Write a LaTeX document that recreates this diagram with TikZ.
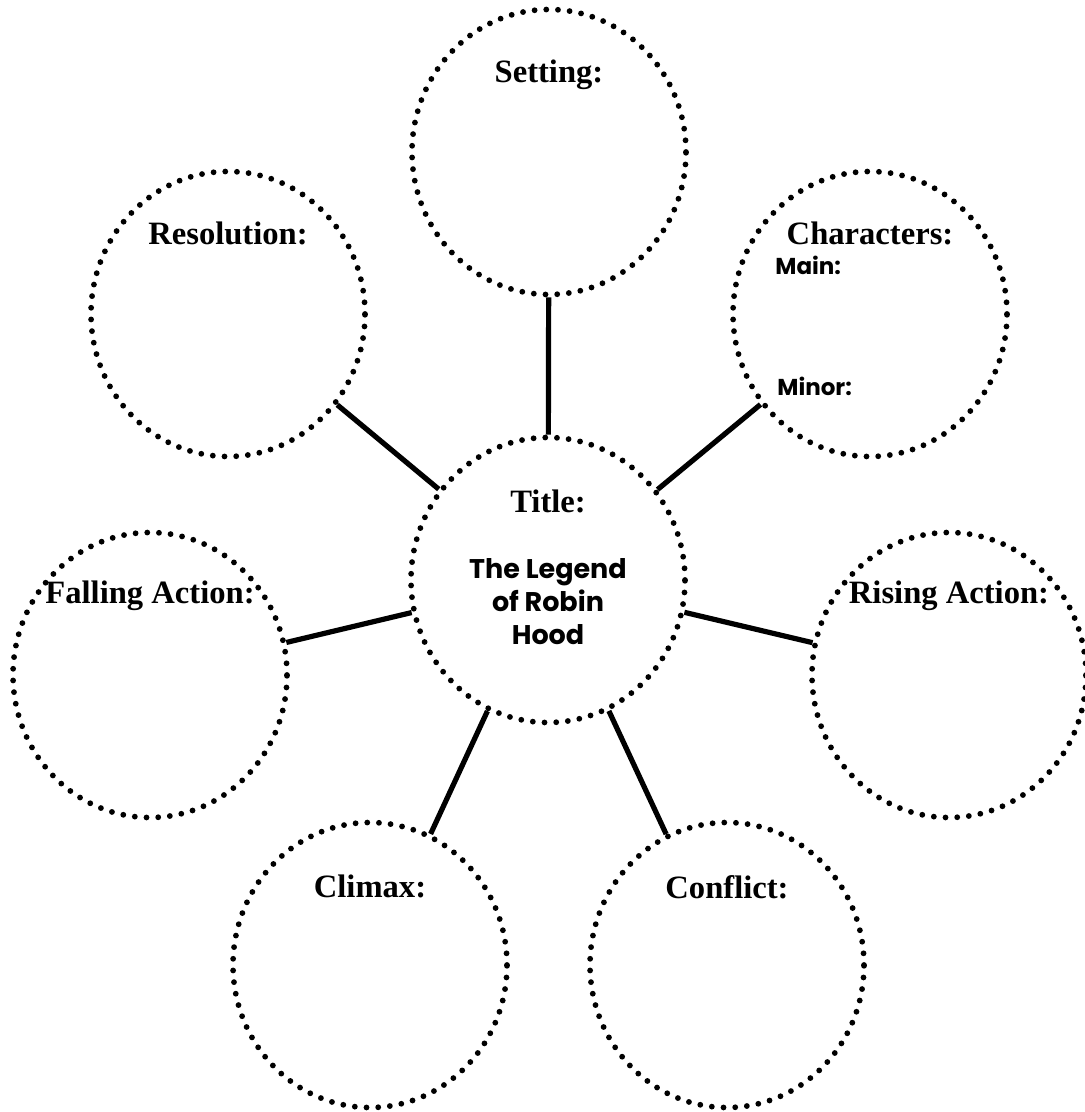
\documentclass[tikz,border=0pt]{standalone}
\usepackage{fontspec}
\setmainfont{Liberation Serif}
\newfontfamily\handfont{Poppins}
\usetikzlibrary{positioning, shapes.geometric}

\begin{document}
\begin{tikzpicture}[x=0.5pt, y=-0.5pt,
		% Define styles for the bubbles and texts
		bubble/.style={
			ellipse, draw=black, line width=2.9pt, line cap=round,
			dash pattern=on 0pt off 5.85pt,
			minimum width=137pt, minimum height=142.5pt, inner sep=0pt
		},
		heading/.style={
			font=\fontsize{16.3}{19}\selectfont\bfseries, inner sep=0pt, anchor=base
		},
		hand/.style={
			font=\handfont\bfseries\fontsize{11.5}{14}\selectfont, inner sep=0pt, anchor=base west
		},
		spoke/.style={
			line width=2.6pt, draw=black
		}
		]
		\useasboundingbox (0,0) rectangle (1084,1112);
		
		% Define the bubbles
		\node[bubble] (title) at (548,580) {};
		\node[bubble] (setting) at (549,152) {};
		\node[bubble] (characters) at (870,314) {};
		\node[bubble] (rising) at (949,675) {};
		\node[bubble] (conflict) at (727,965) {};
		\node[bubble] (climax) at (370,965) {};
		\node[bubble] (falling) at (150,675) {};
		\node[bubble] (resolution) at (228,314) {};
		
		% Headings inside the bubbles
		\node[heading] (titlehead) at ([yshift=34pt]title.center) {Title:};
		\node[heading] (settinghead) at ([yshift=34.5pt]setting.center) {Setting:};
		\node[heading] (charactershead) at ([yshift=34.5pt]characters.center) {Characters:};
		\node[heading] (risinghead) at ([yshift=36pt]rising.center) {Rising Action:};
		\node[heading] (conflicthead) at ([yshift=33.5pt]conflict.center) {Conflict:};
		\node[heading] (climaxhead) at ([yshift=34pt]climax.center) {Climax:};
		\node[heading] (fallinghead) at ([yshift=36pt]falling.center) {Falling Action:};
		\node[heading] (resolutionhead) at ([yshift=34.5pt]resolution.center) {Resolution:};
		
		% Handwritten texts
		\node[font=\handfont\bfseries\fontsize{13.5}{16.5}\selectfont, align=center, inner sep=0pt, anchor=north]
			(storyname) at ([yshift=11pt]title.center) {The Legend\\of Robin\\Hood};
		\node[hand] (maintxt) at ([xshift=-47.5pt, yshift=19.5pt]characters.center) {Main:};
		\node[hand] (minortxt) at ([xshift=-46.5pt, yshift=-40.5pt]characters.center) {Minor:};
		
		% Spokes from the title to the story parts
		\draw[spoke] (title) -- (setting);
		\draw[spoke] (title) -- (characters);
		\draw[spoke] (title) -- (rising);
		\draw[spoke] (title) -- (conflict);
		\draw[spoke] (title) -- (climax);
		\draw[spoke] (title) -- (falling);
		\draw[spoke] (title) -- (resolution);
		
	\end{tikzpicture}
\end{document}
